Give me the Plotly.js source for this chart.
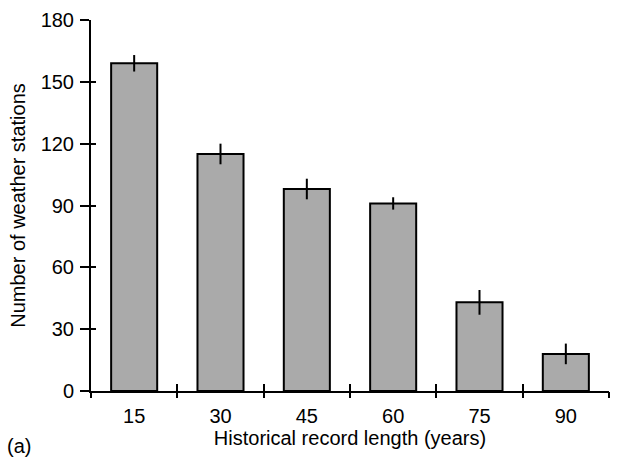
<!DOCTYPE html>
<html>
<head>
<meta charset="utf-8">
<script src="https://cdn.plot.ly/plotly-3.0.1.min.js"></script>
<style>html,body{margin:0;padding:0;background:#fff;}#chart{width:624px;height:458px;}</style>
</head>
<body>
<div id="chart"></div>
<script>
const recordLengths = [15, 30, 45, 60, 75, 90];
const stationCounts = [159, 115, 98, 91, 43, 18];
const stationErrors = [4, 5, 5, 3, 6, 5];
const yTickValues = [0, 30, 60, 90, 120, 150, 180];
const xBoundaries = [7.5, 22.5, 37.5, 52.5, 67.5, 82.5, 97.5];

const font = {family: 'Liberation Sans, Arial, sans-serif', size: 20, color: '#000'};

const traces = [{
  type: 'bar',
  x: recordLengths,
  y: stationCounts,
  width: 8,
  marker: {color: '#aaaaaa', line: {color: '#000', width: 2}},
  error_y: {type: 'data', array: stationErrors, visible: true, color: '#000', thickness: 2, width: 0},
  hoverinfo: 'x+y'
}];

const xr = [7.5, 97.5];
const layout = {
  width: 624, height: 458,
  margin: {l: 91, r: 15, t: 20, b: 67},
  paper_bgcolor: '#fff', plot_bgcolor: '#fff',
  showlegend: false,
  font: font,
  xaxis: {
    range: xr, tickmode: 'array', tickvals: recordLengths, ticktext: recordLengths.map(String),
    ticks: '', showgrid: false, zeroline: false, showline: true, linecolor: '#000', linewidth: 2,
    tickfont: font, ticklabelstandoff: 6,
    title: {text: 'Historical record length (years)', font: font, standoff: 5}
  },
  xaxis2: {
    overlaying: 'x', anchor: 'y', range: xr, tickmode: 'array', tickvals: xBoundaries,
    ticks: 'outside', ticklen: 6, tickwidth: 2, tickcolor: '#000', showticklabels: false,
    showgrid: false, zeroline: false, showline: false
  },
  xaxis3: {
    overlaying: 'x', anchor: 'y', range: xr, tickmode: 'array', tickvals: xBoundaries,
    ticks: 'inside', ticklen: 7, tickwidth: 2, tickcolor: '#000', showticklabels: false,
    showgrid: false, zeroline: false, showline: false
  },
  yaxis: {
    range: [0, 180], tickmode: 'array', tickvals: yTickValues,
    ticks: 'outside', ticklen: 9, tickwidth: 2, tickcolor: '#000',
    showgrid: false, zeroline: false, showline: true, linecolor: '#000', linewidth: 2,
    tickfont: font, ticklabelstandoff: 2,
    title: {text: 'Number of weather stations', font: font, standoff: 10}
  },
  yaxis2: {
    overlaying: 'y', anchor: 'x', side: 'left', range: [0, 180], tickmode: 'array', tickvals: yTickValues,
    ticks: 'inside', ticklen: 5, tickwidth: 2, tickcolor: '#000', showticklabels: false,
    showgrid: false, zeroline: false, showline: false
  },
  annotations: [{
    text: '(a)', xref: 'paper', yref: 'paper', x: -0.166, y: -0.148, xanchor: 'left', yanchor: 'middle',
    showarrow: false, font: font
  }]
};

const dummy = [
  {type: 'scatter', x: [], y: [], xaxis: 'x2', yaxis: 'y', hoverinfo: 'skip'},
  {type: 'scatter', x: [], y: [], xaxis: 'x3', yaxis: 'y', hoverinfo: 'skip'},
  {type: 'scatter', x: [], y: [], xaxis: 'x', yaxis: 'y2', hoverinfo: 'skip'}
];

Plotly.newPlot('chart', traces.concat(dummy), layout, {displayModeBar: false, staticPlot: true});
</script>
</body>
</html>
